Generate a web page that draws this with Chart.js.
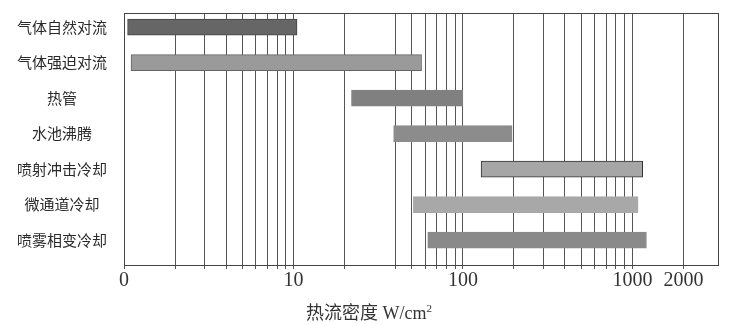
<!DOCTYPE html>
<html>
<head>
<meta charset="utf-8">
<script src="https://cdn.jsdelivr.net/npm/chart.js@4"></script>
<style>
  html, body { margin: 0; padding: 0; background: #fff; }
  #wrap { position: relative; width: 743px; height: 325px; }
  #axisTitle {
    position: absolute; left: 306px; top: 298px;
    font-family: "Liberation Serif", "Noto Sans CJK SC", serif;
    font-size: 18px; color: #333; white-space: nowrap;
  }
  #axisTitle sup { font-size: 11px; }
</style>
</head>
<body>
<div id="wrap">
  <canvas id="chart" width="743" height="325"></canvas>
  <div id="axisTitle">热流密度 W/cm<sup>2</sup></div>
</div>
<script>
// các loại phương pháp tản nhiệt
const categories = ['气体自然对流', '气体强迫对流', '热管', '水池沸腾', '喷射冲击冷却', '微通道冷却', '喷雾相变冷却'];
// khoảng mật độ dòng nhiệt (W/cm2)
const rangeStart = [1.05, 1.1, 22, 39, 128, 51, 62];
const rangeEnd = [10.5, 57, 100, 195, 1150, 1080, 1210];
// các đường lưới dọc
const gridValues = [1, 2, 3, 4, 5, 6, 7, 8, 9, 10, 20, 40, 50, 60, 70, 80, 90, 100,
    200, 300, 400, 500, 600, 700, 800, 900, 1000, 2000];
const tickLabels = { 1: '0', 10: '10', 100: '100', 1000: '1000', 2000: '2000' };

const barColors = ['#666666', '#9a9a9a', '#808080', '#8c8c8c', '#a6a6a6', '#a8a8a8', '#8a8a8a'];
const barBorders = ['#444444', '#666666', '#808080', '#8c8c8c', '#333333', '#a8a8a8', '#8a8a8a'];

// vẽ khung quanh vùng biểu đồ
const frame = {
    id: 'frame',
    afterDraw(chart) {
        const { ctx, chartArea: a } = chart;
        ctx.save();
        ctx.strokeStyle = '#444';
        ctx.lineWidth = 1;
        ctx.strokeRect(a.left + 0.5, a.top + 0.5, a.right - a.left, a.bottom - a.top);
        ctx.restore();
    }
};

const ctx = document.getElementById('chart').getContext('2d');
new Chart(ctx, {
    type: 'bar',
    data: {
        datasets: [{
            data: categories.map((c, i) => ({ y: i, x: [rangeStart[i], rangeEnd[i]] })),
            backgroundColor: barColors,
            borderColor: barBorders,
            borderWidth: 1,
            borderSkipped: false,
            barThickness: 16
        }]
    },
    options: {
        indexAxis: 'y',
        responsive: false,
        animation: false,
        layout: { padding: { top: 13, right: 25, left: 0, bottom: 0 } },
        scales: {
            x: {
                type: 'logarithmic',
                min: 1,
                max: 3200,
                afterBuildTicks: s => { s.ticks = gridValues.map(v => ({ value: v })); },
                afterFit: s => { s.height = 60; },
                grid: { color: '#555', lineWidth: 1, tickLength: 4, drawTicks: true },
                border: { color: '#444' },
                ticks: {
                    autoSkip: false,
                    maxRotation: 0,
                    padding: 0,
                    color: '#333',
                    font: { family: '"Liberation Serif", serif', size: 20 },
                    callback: v => tickLabels[v] || ''
                }
            },
            y: {
                type: 'linear',
                reverse: true,
                offset: false,
                min: -0.4,
                max: 6.7,
                afterBuildTicks: s => { s.ticks = categories.map((c, i) => ({ value: i })); },
                afterFit: s => { s.width = 124; s.paddingTop = 0; s.paddingBottom = 0; },
                grid: { display: false },
                border: { color: '#444' },
                ticks: {
                    crossAlign: 'center',
                    padding: 9,
                    color: '#2a2a2a',
                    font: { family: '"Noto Sans CJK SC", sans-serif', size: 15 },
                    callback: v => categories[v] || ''
                }
            }
        },
        plugins: {
            legend: { display: false },
            tooltip: { enabled: false }
        }
    },
    plugins: [frame]
});
</script>
</body>
</html>
